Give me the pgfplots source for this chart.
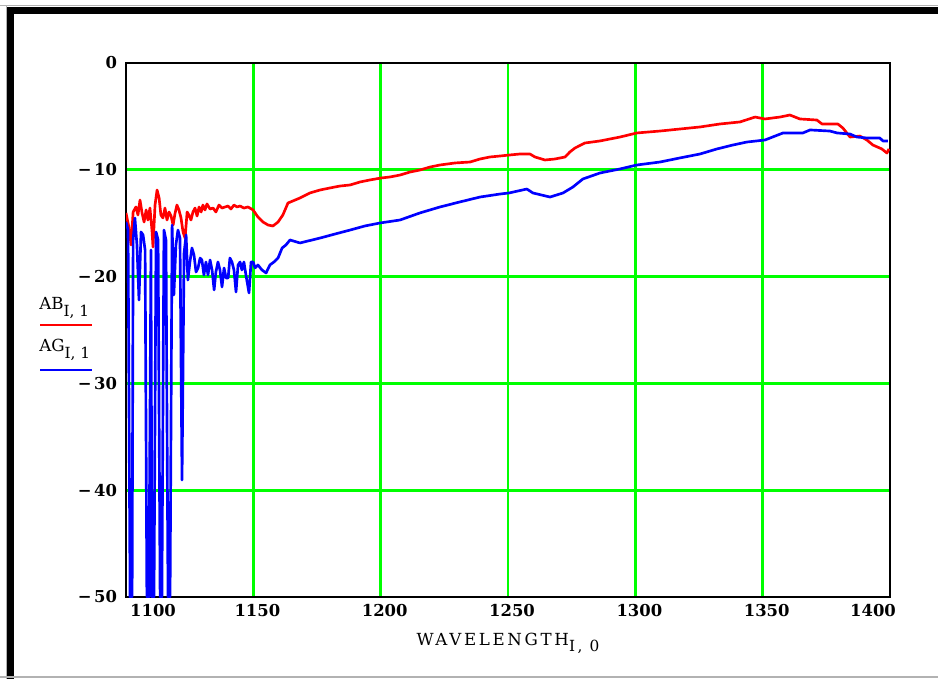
\documentclass[border=0pt]{standalone}
\usepackage{fontspec}
\setmainfont{DejaVu Serif}
\usepackage{pgfplots}
\usepackage{pgfplotstable}
\pgfplotsset{compat=1.18}
\definecolor{mgreen}{RGB}{0,255,0}
\definecolor{mred}{RGB}{255,0,0}
\definecolor{mblue}{RGB}{0,0,255}
\pgfplotstableread{
w v
1100.0 -14.04
1101.2 -15.45
1102.0 -17.04
1102.8 -13.95
1103.9 -13.48
1104.7 -14.23
1105.5 -12.83
1106.3 -14.04
1107.1 -14.89
1107.9 -13.76
1108.6 -14.70
1109.4 -13.58
1110.2 -15.64
1110.6 -17.23
1111.4 -13.30
1112.2 -11.89
1113.0 -12.64
1113.7 -14.23
1114.5 -14.51
1115.3 -13.58
1116.1 -14.70
1116.9 -13.95
1117.7 -14.33
1118.5 -15.17
1119.2 -14.14
1120.0 -13.30
1120.8 -13.76
1121.6 -14.51
1122.4 -15.82
1123.2 -16.39
1124.0 -13.95
1124.7 -14.23
1125.5 -14.70
1126.3 -13.95
1127.1 -13.58
1127.9 -14.33
1128.7 -13.48
1129.5 -13.95
1130.2 -13.30
1131.0 -13.76
1131.8 -13.20
1133.0 -13.67
1134.2 -13.58
1135.3 -13.95
1136.5 -13.30
1137.7 -13.58
1138.9 -13.48
1140.1 -13.39
1141.2 -13.67
1142.4 -13.30
1143.6 -13.48
1144.8 -13.39
1146.3 -13.58
1147.9 -13.48
1149.9 -13.76
1151.8 -14.42
1153.8 -14.89
1155.8 -15.17
1157.7 -15.26
1159.7 -14.89
1161.6 -14.23
1163.6 -13.11
1166.4 -12.83
1168.3 -12.64
1172.2 -12.17
1176.2 -11.89
1180.1 -11.70
1184.0 -11.52
1188.0 -11.42
1191.9 -11.14
1195.8 -10.95
1200.1 -10.77
1203.7 -10.67
1207.6 -10.49
1211.5 -10.21
1215.4 -10.02
1219.4 -9.74
1223.3 -9.55
1229.2 -9.36
1235.1 -9.27
1239.0 -8.99
1242.9 -8.80
1246.8 -8.71
1250.8 -8.61
1254.7 -8.52
1258.6 -8.52
1260.6 -8.80
1264.5 -9.08
1268.4 -8.99
1272.4 -8.80
1274.3 -8.33
1276.3 -7.96
1280.2 -7.49
1286.1 -7.30
1294.0 -6.93
1300.6 -6.55
1309.7 -6.37
1317.5 -6.18
1325.4 -5.99
1333.2 -5.71
1341.1 -5.52
1347.0 -5.06
1350.9 -5.24
1356.8 -5.06
1360.7 -4.87
1364.6 -5.24
1371.3 -5.34
1373.3 -5.71
1379.5 -5.71
1381.5 -6.09
1384.3 -6.93
1388.2 -6.84
1390.9 -7.21
1393.3 -7.68
1396.8 -8.05
1398.8 -8.43
1399.6 -8.05
}\ABtable
\pgfplotstableread{
w v
1100.0 -14.89
1100.8 -15.64
1101.6 -50
1102.4 -50
1102.8 -16.57
1103.5 -14.51
1104.3 -17.04
1105.1 -22.19
1105.9 -15.82
1106.7 -16.10
1107.5 -17.51
1108.2 -50
1109.0 -50
1109.8 -17.51
1110.2 -50
1111.0 -50
1111.8 -15.82
1112.6 -16.57
1113.4 -50
1114.1 -50
1114.9 -15.64
1115.7 -16.57
1116.5 -50
1117.3 -50
1118.1 -15.17
1118.8 -21.72
1119.6 -17.04
1120.4 -15.64
1121.2 -16.39
1122.0 -39.04
1122.8 -17.79
1123.6 -16.10
1124.3 -20.32
1125.1 -18.63
1125.9 -17.32
1126.7 -17.98
1127.5 -19.57
1128.3 -19.19
1129.1 -18.26
1129.8 -18.44
1130.6 -19.85
1131.4 -18.63
1132.2 -19.85
1133.0 -18.44
1133.8 -19.38
1134.6 -21.25
1135.3 -19.57
1136.1 -18.63
1136.9 -19.38
1137.7 -20.97
1138.5 -19.19
1139.3 -20.13
1140.1 -20.13
1140.8 -18.26
1141.6 -18.63
1142.4 -19.38
1143.2 -21.44
1144.0 -18.91
1144.8 -18.63
1145.5 -19.38
1146.3 -18.63
1147.1 -19.85
1148.3 -21.53
1149.1 -18.63
1149.9 -18.63
1150.7 -19.19
1151.8 -18.91
1153.4 -19.38
1155.0 -19.66
1156.5 -18.91
1158.1 -18.63
1159.7 -18.26
1161.3 -17.32
1162.8 -17.04
1164.4 -16.57
1168.3 -16.85
1176.2 -16.39
1182.1 -16.01
1188.0 -15.64
1193.8 -15.26
1199.7 -14.98
1207.6 -14.70
1215.4 -14.04
1223.3 -13.48
1231.1 -13.01
1239.0 -12.55
1246.8 -12.27
1250.4 -12.17
1257.4 -11.80
1259.8 -12.17
1266.5 -12.55
1271.6 -12.17
1275.5 -11.61
1279.4 -10.86
1286.1 -10.30
1294.0 -9.92
1300.6 -9.55
1309.7 -9.27
1317.5 -8.89
1325.4 -8.52
1332.0 -8.05
1338.3 -7.68
1343.8 -7.40
1350.9 -7.21
1358.0 -6.55
1365.8 -6.55
1368.6 -6.27
1376.4 -6.37
1379.2 -6.55
1384.3 -6.65
1387.0 -6.93
1390.9 -7.02
1396.0 -7.02
1397.2 -7.30
1399.2 -7.30
}\AGtable
\newcommand{\tl}{\bfseries\fontsize{12.3}{14}\selectfont}
\newcommand{\lb}{\fontsize{12.5}{14}\selectfont}
\begin{document}
\begin{tikzpicture}[x=0.75pt,y=0.75pt]
\useasboundingbox (0,0) rectangle (938,679);
\fill[white] (0,0) rectangle (938,679);
% window frame
\fill[black] (7,665) rectangle (938,672);
\fill[black] (7,0) rectangle (14,672);
\draw[gray!60, line width=0.75pt] (0,673) -- (938,673);
\draw[gray!60, line width=0.75pt] (6,0) -- (6,673);
\draw[gray!60, line width=1pt] (0,2) -- (938,2);
\begin{axis}[
  at={(94.5pt,61.5pt)}, anchor=south west,
  scale only axis, width=573pt, height=400.5pt,
  xmin=1100, xmax=1400, ymin=-50, ymax=0,
  xtick={1150,1200,1250,1300,1350},
  xticklabels={1150,1200,1250,1300,1350},
  ytick={-50,-40,-30,-20,-10,0},
  yticklabels={−\,50,−\,40,−\,30,−\,20,−\,10,0},
  major tick length=0pt,
  grid=major,
  grid style={mgreen, line width=2.2pt},
  axis line style={black, line width=2pt},
  ticklabel style={font=\tl},
  xticklabel style={inner sep=0pt, anchor=north, yshift=-5pt, xshift=3pt},
  yticklabel style={inner sep=0pt, anchor=east, xshift=-6.5pt},
  clip=true,
]
\addplot[mred, line width=2pt, line join=round] table[x=w,y=v]{\ABtable};
\addplot[mblue, line width=2pt, line join=round] table[x=w,y=v]{\AGtable};
\end{axis}
% end tick labels of x axis (axis limits)
\node[font=\tl, anchor=north, inner sep=0pt] at (153,75) {1100};
\node[font=\tl, anchor=north, inner sep=0pt] at (873,75) {1400};
% axis label
\node[font=\lb, anchor=base, inner sep=0pt] at (508,34) {\addfontfeatures{LetterSpace=16}WAVELENGTH\raisebox{-4.5pt}{\fontsize{11.5}{12}\selectfont I, 0}};
% left labels with line samples
\node[font=\lb, anchor=base west, inner sep=0pt] at (39,369) {AB\raisebox{-4.5pt}{\fontsize{11.5}{12}\selectfont I, 1}};
\draw[mred, line width=2pt] (40,354) -- (92,354);
\node[font=\lb, anchor=base west, inner sep=0pt] at (39,327) {AG\raisebox{-4.5pt}{\fontsize{11.5}{12}\selectfont I, 1}};
\draw[mblue, line width=2pt] (40,309) -- (92,309);
\end{tikzpicture}
\end{document}
